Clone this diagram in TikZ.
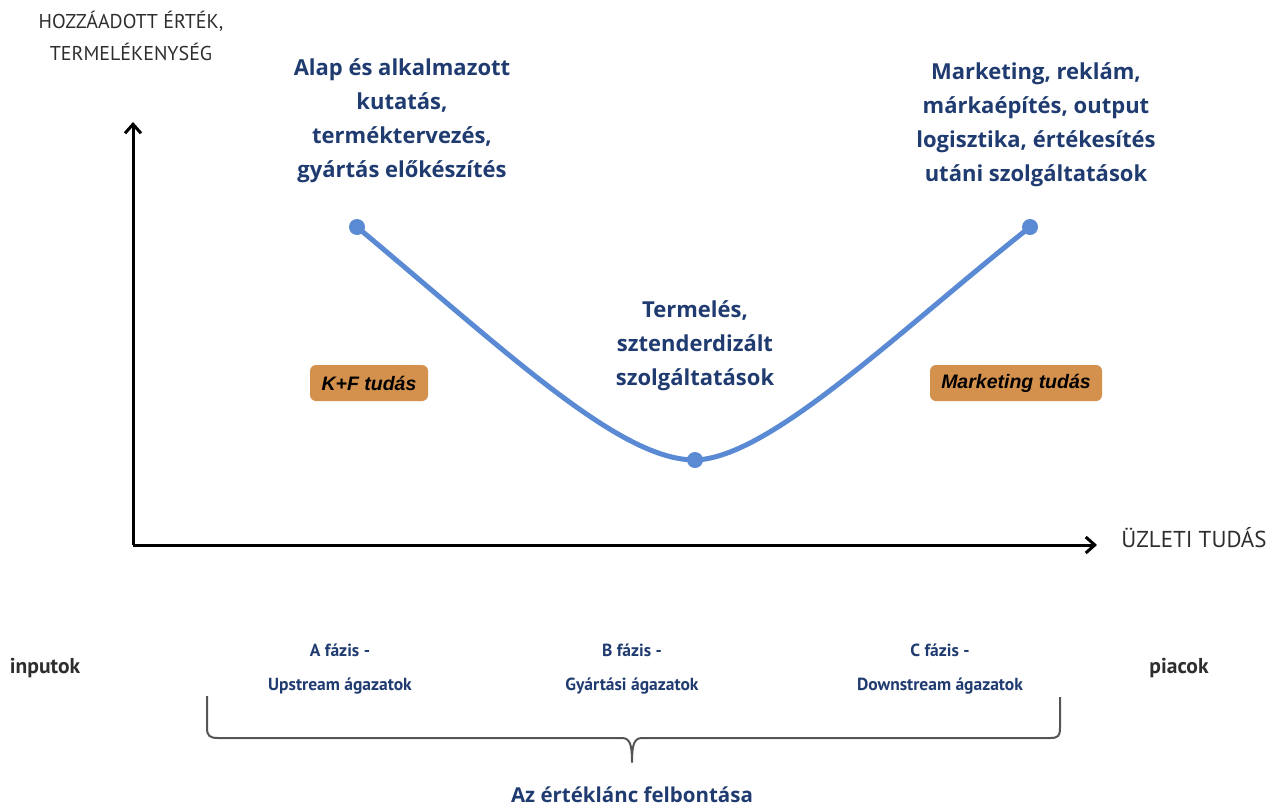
\documentclass[tikz,border=0pt]{standalone}
\usepackage{fontspec}
\setmainfont{Open Sans}
\newfontfamily\ptsans{PT Sans}
\newfontfamily\libsans{Liberation Sans}
\usetikzlibrary{arrows.meta}
\definecolor{navy}{HTML}{1F3B70}
\definecolor{curveblue}{HTML}{5A8AD3}
\definecolor{boxorange}{HTML}{D4914E}
\definecolor{axisgray}{HTML}{2E2E2E}
\definecolor{bracegray}{HTML}{555555}
\tikzset{
  toptext/.style={text=navy, font=\fontsize{22}{34}\selectfont\bfseries, align=center, inner sep=0pt},
  phasetext/.style={text=navy, font=\ptsans\fontsize{17.5}{34}\selectfont\bfseries, align=center, inner sep=0pt},
  titletext/.style={text=navy, font=\fontsize{20.5}{24}\selectfont\bfseries, inner sep=0pt},
  axislabel/.style={text=axisgray, font=\ptsans\fontsize{20}{32}\selectfont, align=center, inner sep=0pt},
  xlabelstyle/.style={text=axisgray, font=\ptsans\fontsize{23}{26}\selectfont, inner sep=0pt},
  endlabel/.style={text=axisgray, font=\ptsans\fontsize{21.5}{24}\selectfont\bfseries, inner sep=0pt},
  knowbox/.style={fill=boxorange, rounded corners=6pt, minimum height=36pt, inner sep=0pt, text=black, font=\libsans\fontsize{19.5}{22}\selectfont\bfseries\itshape},
  axisline/.style={line width=3pt, black, -{Straight Barb[length=9pt,width=16pt,line width=3pt]}},
  dot/.style={circle, fill=curveblue, minimum size=16pt, inner sep=0pt},
}
\begin{document}
\begin{tikzpicture}[x=1pt,y=-1pt]
\useasboundingbox (0,0) rectangle (1281,809);
% axes
\coordinate (O) at (133,545);
\coordinate (Ytop) at (133,122);
\coordinate (Xend) at (1097,545);
\draw[axisline] (O) -- (Ytop);
\draw[axisline] (O) -- (Xend);
\node[axislabel] (ylab) at (131,36) {HOZZÁADOTT ÉRTÉK,\\TERMELÉKENYSÉG};
\node[xlabelstyle] (xlab) at (1194,538) {ÜZLETI TUDÁS};
% curve
\node[dot] (L) at (357,227) {};
\node[dot] (M) at (695,460) {};
\node[dot] (R) at (1030,227) {};
\draw[curveblue, line width=5pt] (L.center) .. controls (510,355) and (620,460) .. (M.center)
  .. controls (770,458) and (900,330) .. (R.center);
% texts
\node[toptext] (tl) at (402,121) {Alap és alkalmazott\\kutatás,\\terméktervezés,\\gyártás előkészítés};
\node[toptext] (tr) at (1036,125) {Marketing, reklám,\\márkaépítés, output\\logisztika, értékesítés\\utáni szolgáltatások};
\node[toptext] (tm) at (695,346) {Termelés,\\sztenderdizált\\szolgáltatások};
\node[knowbox, minimum width=118pt] (kf) at (369,383) {K+F tudás};
\node[knowbox, minimum width=172pt] (mk) at (1016,383) {Marketing tudás};
% bottom
\node[endlabel] (inp) at (45,668) {inputok};
\node[endlabel] (pia) at (1179,668) {piacok};
\node[phasetext] (pa) at (340,669) {A fázis -\\Upstream ágazatok};
\node[phasetext] (pb) at (632,669) {B fázis -\\Gyártási ágazatok};
\node[phasetext] (pc) at (940,669) {C fázis -\\Downstream ágazatok};
\coordinate (bl) at (207,696);
\coordinate (br) at (1060,697);
\coordinate (bt) at (632,762);
\draw[bracegray, line width=2pt, line join=round]
  (bl) -- (207,728) .. controls (207,736) and (210,738) .. (218,738)
  -- (622,738) .. controls (630,738) and (632,745) .. (bt)
  .. controls (632,745) and (634,738) .. (642,738)
  -- (1050,738) .. controls (1058,738) and (1060,736) .. (1060,728) -- (br);
\node[titletext] (vc) at (632,795) {Az értéklánc felbontása};
\end{tikzpicture}
\end{document}
